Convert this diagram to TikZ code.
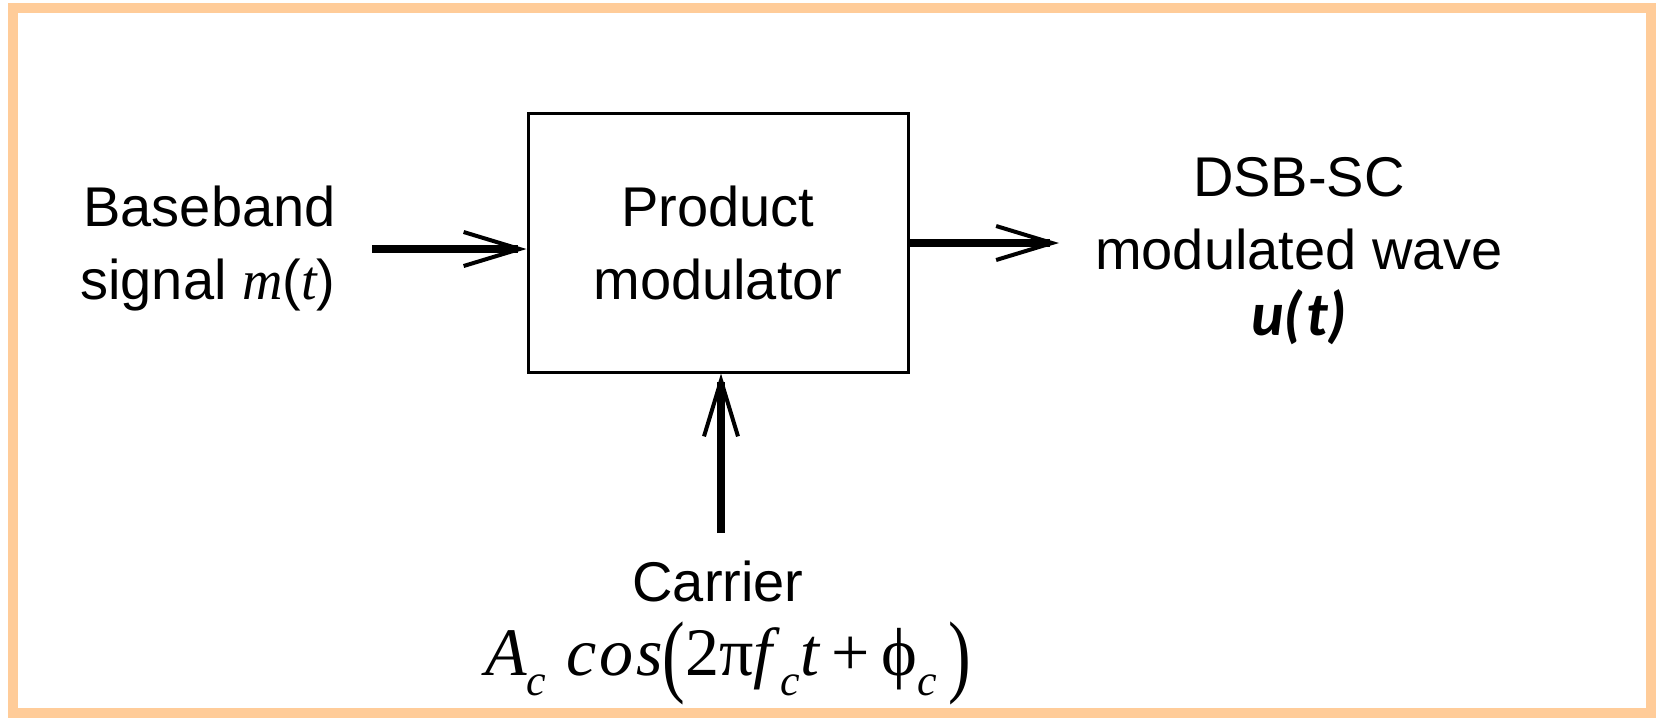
\documentclass[tikz,border=0pt]{standalone}
\usepackage{fontspec}
\setmainfont{Liberation Sans}
\newfontfamily\tnr{Liberation Serif}
\newfontfamily\carlito{Carlito}
\usetikzlibrary{arrows.meta}
\definecolor{framecol}{RGB}{255,204,153}
\newcommand\sbc{\raisebox{-0.3em}{\fontsize{22}{22}\selectfont\itshape c}}
\newcommand\bigp[1]{\raisebox{-0.14em}{\scalebox{1}[1.35]{#1}}}
\begin{document}
\begin{tikzpicture}[x=0.5pt,y=-0.5pt,
  lbl/.style={font=\fontsize{28}{36.5}\selectfont, inner sep=0pt},
  sig/.style={line width=4pt, -{Straight Barb[length=28pt,width=17pt,line width=2pt]}},
  blockbox/.style={draw, line width=1.5pt, minimum width=190pt, minimum height=129.5pt, inner sep=0pt, align=center, font=\fontsize{28}{36.5}\selectfont}
]
\useasboundingbox (0,0) rectangle (1656,720);
\draw[framecol, line width=5pt] (13,8) rectangle (1651,713);

\node[blockbox] (pm) at (718,242.5) {Product\\modulator};

\node[lbl, anchor=east, align=right] (bb) at (336,249) {Baseband\\signal {\tnr\itshape m}({\tnr\itshape t})};
\node[lbl, align=center] (dsb) at (1299,214) {DSB-SC\\modulated wave};
\node[inner sep=0pt, font=\carlito\bfseries\itshape\fontsize{31}{31}\selectfont] (ut) at (1299,317) {u(\kern0.05em t)};
\node[lbl] (car) at (718,581) {Carrier};
\node[inner sep=0pt, font=\tnr\fontsize{34}{34}\selectfont] (cf) at (728,663)
  {\textit{A}\sbc\hspace{0.3em}\textit{c\kern0.04em o\kern0.04em s}\bigp{(}2π\textit{f}\sbc\textit{t}\,+\,ϕ\sbc\,\bigp{)}};

\coordinate (bbend) at (372,249);
\coordinate (outend) at (1059,243);
\coordinate (cstart) at (721,533);
\draw[sig] (bbend) -- (bbend -| pm.west);
\draw[sig] (pm.east |- outend) -- (outend);
\draw[sig] (cstart) -- (cstart |- pm.south);
\end{tikzpicture}
\end{document}
